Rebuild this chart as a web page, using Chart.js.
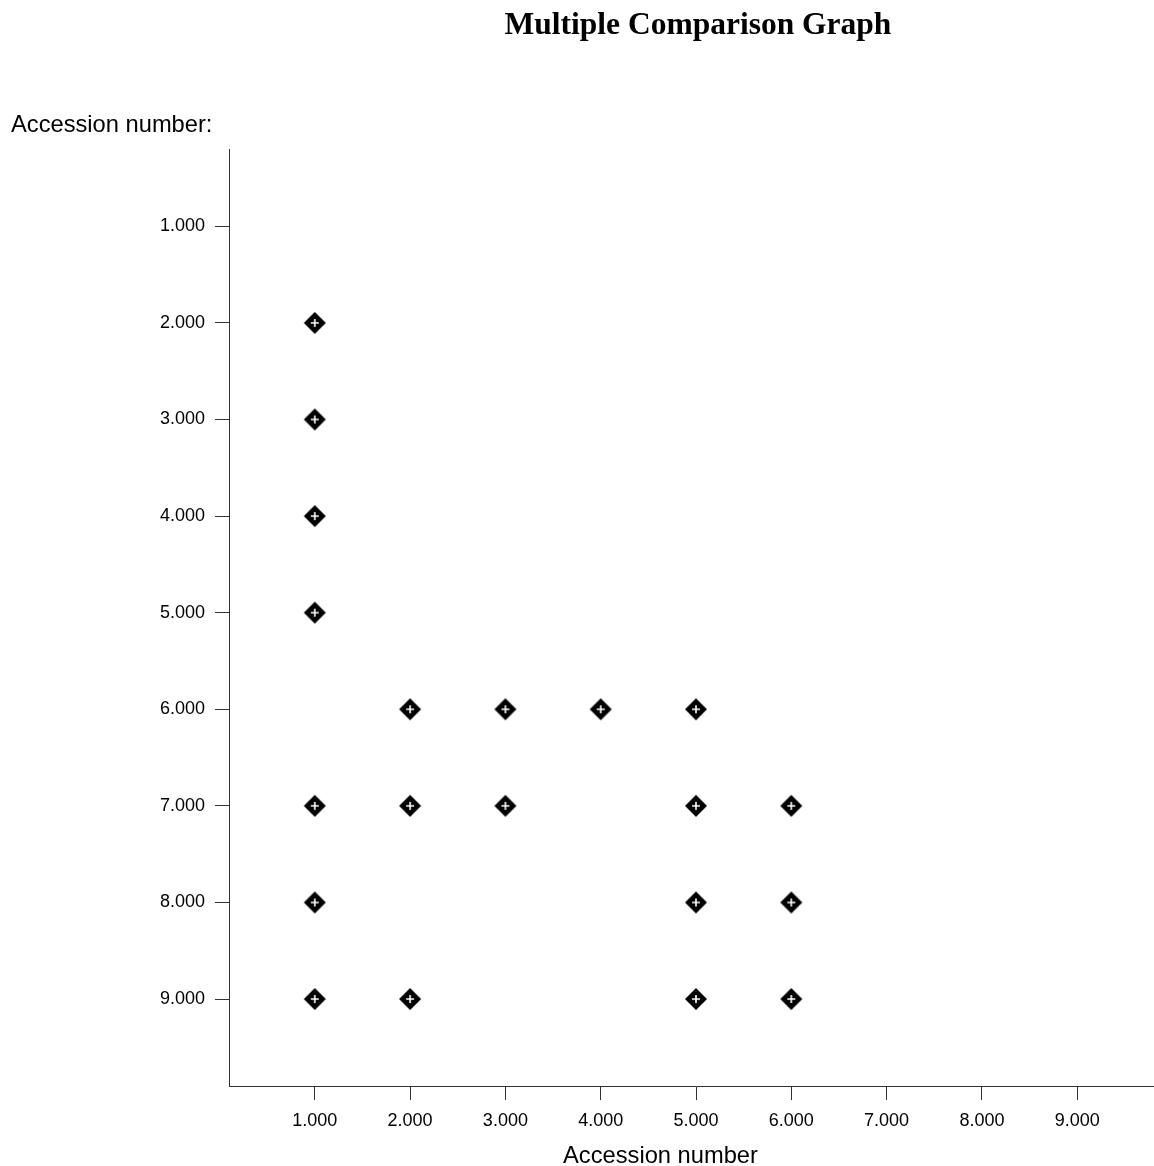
<!DOCTYPE html>
<html lang="en">
<head>
  <meta charset="UTF-8" />
  <title>Multiple Comparison Graph</title>
  <script src="https://cdn.jsdelivr.net/npm/chart.js"></script>
  <style>
    html,body{margin:0;padding:0;background:#fff;overflow:hidden}
    #wrap{position:relative;width:1175px;height:1166px}
  </style>
</head>
<body>
<div id="wrap"><canvas id="mcg" width="1175" height="1166"></canvas></div>
<script>
// --- data -----------------------------------------------------------------
// each pair (pairX[i], pairY[i]) is one marked comparison
const pairX=[1,1,1,1, 2,3,4,5, 1,2,3,5,6, 1,5,6, 1,2,5,6];
const pairY=[2,3,4,5, 6,6,6,6, 7,7,7,7,7, 8,8,8, 9,9,9,9];
const tickValues=[1,2,3,4,5,6,7,8,9];
const chartTitle='Multiple Comparison Graph';
const axisLabel='Accession number';

// --- marker: black diamond with a small white plus ------------------------
function makeMarker(){
  const c=document.createElement('canvas');
  c.width=24;c.height=24;
  const g=c.getContext('2d');
  g.fillStyle='#000';
  g.beginPath();
  g.moveTo(12,1);g.lineTo(23,12);g.lineTo(12,23);g.lineTo(1,12);g.closePath();
  g.fill();
  g.strokeStyle='#fff';g.lineWidth=1.6;
  g.beginPath();
  g.moveTo(8,12);g.lineTo(16,12);
  g.moveTo(12,8);g.lineTo(12,16);
  g.stroke();
  return c;
}

// titles: main title over the plot, y label top-left, x label under ticks
const headings={
  id:'headings',
  afterDraw(chart){
    const ctx=chart.ctx, a=chart.chartArea;
    ctx.save();
    ctx.fillStyle='#000';
    ctx.textBaseline='alphabetic';
    ctx.textAlign='center';
    ctx.font='bold 31.5px "Liberation Serif","Times New Roman",serif';
    ctx.fillText(chartTitle,(a.left+a.right)/2+2,34);
    ctx.font='23.7px "Liberation Sans",Arial,sans-serif';
    ctx.fillText(axisLabel,660.5,1163);
    ctx.textAlign='left';
    ctx.fillText(axisLabel+':',11,132);
    ctx.restore();
  }
};

Chart.defaults.font.family='"Liberation Sans", Arial, sans-serif';
Chart.defaults.color='#000';

const pts=pairX.map((x,i)=>({x:x,y:pairY[i]}));
const axisCol='#333';
const setTicks=s=>{s.ticks=tickValues.map(v=>({value:v}));};

new Chart(document.getElementById('mcg'),{
  type:'scatter',
  data:{datasets:[{data:pts,pointStyle:makeMarker(),pointRadius:11,showLine:false}]},
  plugins:[headings],
  options:{
    responsive:false,
    animation:false,
    events:[],
    layout:{padding:{top:149,left:0,right:3,bottom:0}},
    plugins:{legend:{display:false},tooltip:{enabled:false},title:{display:false}},
    scales:{
      x:{
        type:'linear',min:0.1,max:9.9,
        afterBuildTicks:setTicks,
        afterFit:s=>{s.height=80;},
        grid:{drawOnChartArea:false,drawTicks:true,tickLength:14,color:axisCol},
        border:{display:true,color:axisCol,width:1},
        ticks:{padding:10,font:{size:18},callback:v=>Number(v).toFixed(3)}
      },
      y:{
        type:'linear',reverse:true,min:0.2,max:9.9,
        afterBuildTicks:setTicks,
        afterFit:s=>{s.width=229;},
        grid:{drawOnChartArea:false,drawTicks:true,tickLength:14,color:axisCol},
        border:{display:true,color:axisCol,width:1},
        ticks:{padding:10,font:{size:18},callback:v=>Number(v).toFixed(3)}
      }
    }
  }
});
</script>
</body>
</html>
